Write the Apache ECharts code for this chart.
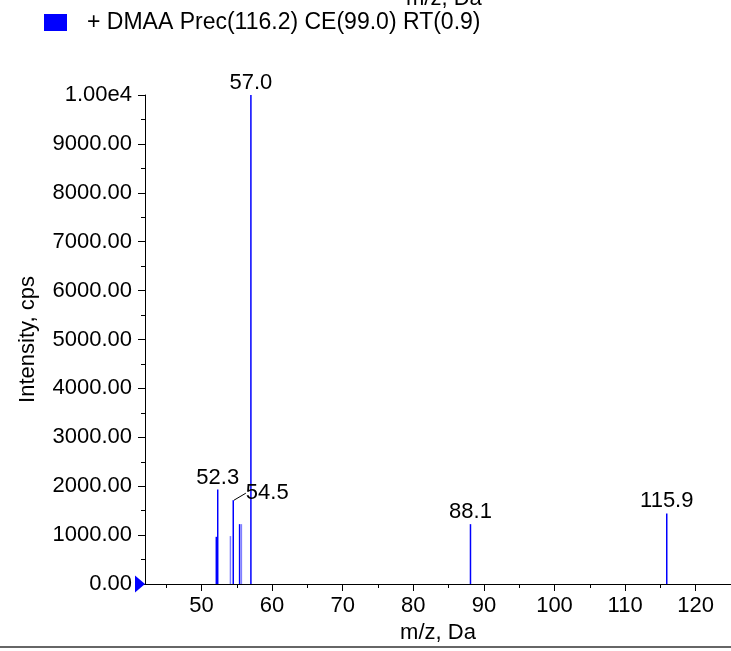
<!DOCTYPE html>
<html><head><meta charset="utf-8">
<script src="https://cdn.jsdelivr.net/npm/echarts@6/dist/echarts.min.js"></script>
<style>html,body{margin:0;padding:0;background:#fff}#c{width:731px;height:651px}</style>
</head><body><div id="c"></div>
<script>
// ---- data ----
var seriesName = '+ DMAA Prec(116.2) CE(99.0) RT(0.9)';
var peakMz        = [52.1, 52.3, 54.5, 55.4, 57.0, 88.1, 115.9];
var peakIntensity = [965, 1933, 1714, 1224, 10000, 1224, 1443];
var peakLabels    = ['', '52.3', '54.5', '', '57.0', '88.1', '115.9'];
var faintMz        = [54.1, 55.65];
var faintIntensity = [980, 1224];
var xTickValues  = [50, 60, 70, 80, 90, 100, 110, 120];
var xMinorValues = [45, 55, 65, 75, 85, 95, 105, 115, 125];
var xMin = 42, xMax = 125;
var yMin = 0, yMax = 10000, yStep = 1000;
var xTitle = 'm/z, Da';
var yTitle = 'Intensity, cps';

var FONT = '"Liberation Sans", Arial, sans-serif';
var chart = echarts.init(document.getElementById('c'));

var mainData = peakMz.map(function (m, i) {
  var item = { value: [m, peakIntensity[i]], labelText: peakLabels[i] };
  if (peakLabels[i] === '54.5') item.labelLine = { show: true };
  return item;
});
var faintData = faintMz.map(function (m, i) { return [m, faintIntensity[i]]; });

chart.setOption({
  animation: false,
  backgroundColor: '#fff',
  textStyle: { fontFamily: FONT, color: '#000' },
  title: {
    text: xTitle, left: 401, top: -17,
    textStyle: { fontFamily: FONT, fontSize: 22, fontWeight: 'normal', color: '#000' }
  },
  legend: {
    data: [seriesName], left: 39, top: 6, icon: 'rect',
    itemWidth: 23, itemHeight: 17,
    textStyle: { fontFamily: FONT, fontSize: 23, color: '#000', padding: [0, 0, 0, 15] }
  },
  grid: { left: 145, top: 95, right: -2, bottom: 67, containLabel: false },
  xAxis: [{
    type: 'value', min: xMin, max: xMax, position: 'bottom',
    name: xTitle, nameLocation: 'middle', nameGap: 33,
    nameTextStyle: { fontFamily: FONT, fontSize: 22, color: '#000' },
    axisLine: { show: true, lineStyle: { color: '#000', width: 1 } },
    axisTick: { show: true, customValues: xTickValues, length: 7, lineStyle: { color: '#000' } },
    axisLabel: { customValues: xTickValues, fontFamily: FONT, fontSize: 22, color: '#000', margin: 11 },
    splitLine: { show: false }
  }, {
    type: 'value', min: xMin, max: xMax, position: 'bottom', gridIndex: 0,
    axisLine: { show: false },
    axisTick: { show: true, customValues: xMinorValues, length: 4, lineStyle: { color: '#000' } },
    axisLabel: { show: false },
    splitLine: { show: false }
  }],
  yAxis: {
    type: 'value', min: yMin, max: yMax, interval: yStep,
    name: yTitle, nameLocation: 'middle', nameGap: 106,
    nameTextStyle: { fontFamily: FONT, fontSize: 22, color: '#000' },
    axisLine: { show: true, lineStyle: { color: '#000', width: 1 } },
    axisTick: { show: true, length: 7, lineStyle: { color: '#000' } },
    minorTick: { show: true, splitNumber: 2, length: 4, lineStyle: { color: '#000' } },
    axisLabel: {
      fontFamily: FONT, fontSize: 22, color: '#000', margin: 13,
      formatter: function (v) { return v >= 10000 ? (v / 10000).toFixed(2) + 'e4' : v.toFixed(2); }
    },
    splitLine: { show: false }
  },
  series: [{
    name: seriesName, type: 'bar', xAxisIndex: 0,
    data: mainData, barWidth: 1.5, barGap: '-100%',
    itemStyle: { color: '#0000ff' },
    label: {
      show: true, position: 'top', distance: 1,
      fontFamily: FONT, fontSize: 22, color: '#000',
      formatter: function (p) { return p.data.labelText; }
    },
    labelLine: { show: false, lineStyle: { color: '#000', width: 1 } },
    labelLayout: function (p) {
      if (mainData[p.dataIndex].labelText === '54.5') return { dx: 34, dy: 5 };
      return {};
    },
    markPoint: {
      symbol: 'triangle', symbolSize: [17, 10], symbolRotate: -90, symbolOffset: [-5, 0],
      itemStyle: { color: '#0000ff' }, label: { show: false },
      data: [{ coord: [xMin, yMin] }]
    }
  }, {
    name: 'faint', type: 'bar', xAxisIndex: 0,
    data: faintData, barWidth: 1.5, barGap: '-100%',
    itemStyle: { color: '#8080ff' }
  }],
  graphic: [{
    type: 'line', shape: { x1: 0, y1: 647, x2: 731, y2: 647 },
    style: { stroke: '#333', lineWidth: 1.5 }
  }]
});
</script></body></html>
